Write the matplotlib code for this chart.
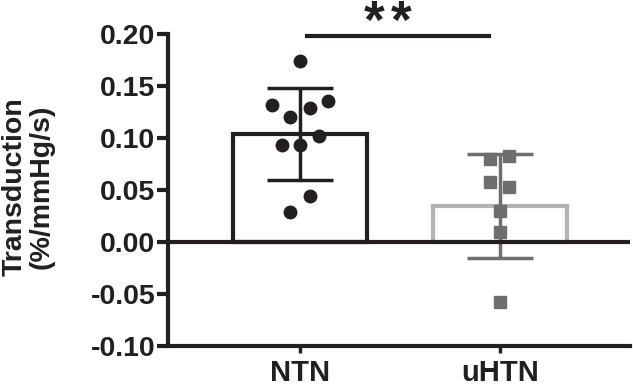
import matplotlib.pyplot as plt

plt.rcParams['font.family'] = ['Liberation Sans', 'DejaVu Sans']
plt.rcParams['font.weight'] = 'bold'

# group data
groups = ["NTN", "uHTN"]
ntn_x = [0.0, -0.14, -0.05, 0.05, 0.14, 0.095, -0.09, 0.0, 0.05, -0.05]
ntn_y = [0.174, 0.132, 0.120, 0.129, 0.136, 0.102, 0.093, 0.093, 0.044, 0.029]
uhtn_x = [-0.05, 0.045, -0.05, 0.045, 0.0, 0.0, 0.0]
uhtn_y = [0.080, 0.083, 0.058, 0.053, 0.030, 0.010, -0.058]
means = [0.104, 0.035]
sds = [0.044, 0.050]

ink = "#231f20"
light = "#b3b3b3"
mid = "#6e6e6e"

fig = plt.figure(figsize=(6.33, 3.88), dpi=100)
ax = fig.add_axes([0.265, 0.108, 0.73, 0.804])

ax.bar(0, means[0], width=0.67, color="white", edgecolor=ink, linewidth=3, zorder=2)
ax.bar(1, means[1], width=0.67, color="white", edgecolor=light, linewidth=3, zorder=2)

ax.errorbar(0, means[0], yerr=sds[0], color=ink, elinewidth=2.5, capsize=24, capthick=2.5, zorder=3)
ax.errorbar(1, means[1], yerr=sds[1], color=mid, elinewidth=2.5, capsize=24, capthick=2.5, zorder=3)

ax.plot(ntn_x, ntn_y, "o", color=ink, markersize=9, zorder=4, linestyle="none")
ax.plot([1 + v for v in uhtn_x], uhtn_y, "s", color=mid, markersize=8.5, zorder=4, linestyle="none")

ax.axhline(0, color=ink, linewidth=3, zorder=5)

# significance bar
ax.plot([0.035, 0.945], [0.198, 0.198], color=ink, linewidth=3, clip_on=False)
for sx in [0.37, 0.505]:
    ax.text(sx, 0.196, "*", ha="center", va="baseline", fontsize=38, fontweight="bold", color=ink)

ax.set_xlim(-0.66, 1.65)
ax.set_ylim(-0.10, 0.20)
ax.set_yticks([-0.10, -0.05, 0.00, 0.05, 0.10, 0.15, 0.20])
ax.set_yticklabels(["%.2f" % t for t in ax.get_yticks()])
ax.set_xticks([0, 1])
ax.set_xticklabels(groups)

for s in ["top", "right"]:
    ax.spines[s].set_visible(False)
for s in ["left", "bottom"]:
    ax.spines[s].set_linewidth(3)
    ax.spines[s].set_color(ink)

ax.tick_params(axis="y", length=8, width=3, color=ink, labelsize=20.5, pad=1, labelcolor=ink)
ax.tick_params(axis="x", length=5, width=2.5, color=ink, labelsize=21, pad=4, labelcolor=ink)

fig.text(28 / 633, 1 - 187 / 388, "Transduction\n(%/mmHg/s)", rotation=90, ha="center", va="center",
         fontsize=20.5, fontweight="bold", color=ink, linespacing=1.05)

fig.savefig("out.png", dpi=100)
